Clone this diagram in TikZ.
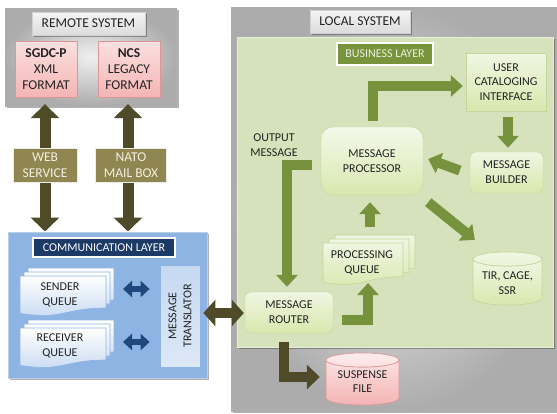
\documentclass[tikz,border=0pt]{standalone}
\usepackage{fontspec}
\setmainfont{Carlito}
\usetikzlibrary{arrows.meta,shadows,calc}
\definecolor{olivedark}{HTML}{4F4A28}
\definecolor{olivebox}{HTML}{908651}
\definecolor{olivetext}{HTML}{F2F0E0}
\definecolor{navy}{HTML}{1B3A66}
\definecolor{commblue}{HTML}{8DB4E2}
\definecolor{commborder}{HTML}{B9CDE5}
\definecolor{blueborder}{HTML}{8DB4E2}
\definecolor{bluepale}{HTML}{C6D9F1}
\definecolor{bluearrow}{HTML}{1F497D}
\definecolor{bizfill}{HTML}{D5E2BB}
\definecolor{bizborder}{HTML}{E8EFD8}
\definecolor{bizlabel}{HTML}{77933C}
\definecolor{bizlabeltext}{HTML}{EBF1DE}
\definecolor{greenarrow}{HTML}{76923C}
\definecolor{greenborder}{HTML}{C3D69B}
\definecolor{greenlight}{HTML}{F0F6E2}
\definecolor{greendark}{HTML}{D8E8AE}
\definecolor{pinklight}{HTML}{FBE0E0}
\definecolor{pinkdark}{HTML}{F4B4B4}
\definecolor{pinkborder}{HTML}{DE9595}
\definecolor{textdark}{HTML}{222222}
\newcommand\ftmain{\fontsize{12}{14.8}\selectfont}
\newcommand\ftbig{\fontsize{13.5}{16}\selectfont}
\newcommand\docpage[5]{\path[#5] ({#1},{#2}) -- ({#1+#3},{#2}) -- ({#1+#3},{#2+0.8*#4}) .. controls ({#1+0.5*#3},{#2+0.8*#4}) and ({#1+0.5*#3},{#2+1.107*#4}) .. ({#1},{#2+0.934*#4}) -- cycle;}
\newcommand\cylshape[7]{%
  \path[#6] ({#1},{#2+#5}) -- ({#1},{#2+#4-#5}) arc[start angle=180,end angle=0,x radius={#3/2},y radius=#5] -- ({#1+#3},{#2+#5}) arc[start angle=0,end angle=180,x radius={#3/2},y radius=#5] -- cycle;
  \path[#7] ({#1+#3/2},{#2+#5}) ellipse[x radius={#3/2},y radius=#5];}
\tikzset{
  shadowed/.style={drop shadow={shadow xshift=2pt,shadow yshift=-2pt,opacity=0.3,fill=black}},
  sysbox/.style={rectangle,inner sep=0,shading=radial,inner color=gray!12,outer color=gray!65,shadowed},
  syslabel/.style={rectangle,top color=gray!8,bottom color=gray!28,draw=gray!35,text=textdark,font=\ftbig,inner sep=0,shadowed},
  pinkbox/.style={rectangle,top color=pinklight,bottom color=pinkdark,draw=pinkborder,text=textdark,font=\ftbig,align=center,inner sep=0},
  olivelabel/.style={rectangle,fill=olivebox,draw=white!85!olivebox,line width=1pt,text=olivetext,font=\ftbig,align=center,inner sep=0},
  gbox/.style={rectangle,top color=greenlight,bottom color=greendark,draw=greenborder,text=textdark,font=\ftmain,align=center,inner sep=0},
  gtext/.style={text=textdark,font=\ftmain,align=center,inner sep=0},
  bluepage/.style={top color=white,bottom color=bluepale,draw=blueborder,line width=0.6pt},
  greenpage/.style={top color=greenlight,bottom color=greendark,draw=greenborder,line width=0.6pt},
  oliveboth/.style={draw=olivedark,line width=11pt,{Triangle[length=14pt,width=28pt]}-{Triangle[length=14pt,width=28pt]}},
  olivesmall/.style={draw=olivedark,line width=10pt,{Triangle[length=12pt,width=26pt]}-{Triangle[length=12pt,width=26pt]}},
  oliveone/.style={draw=olivedark,line width=10pt,line join=miter,-{Triangle[length=13pt,width=24pt]}},
  blueboth/.style={draw=bluearrow,line width=6pt,{Triangle[length=9pt,width=16pt]}-{Triangle[length=9pt,width=16pt]}},
  greenone/.style={draw=greenarrow,line width=10pt,line join=miter,-{Triangle[length=12pt,width=21pt]}},
}
\begin{document}
\begin{tikzpicture}[x=1pt,y=-1pt]
\useasboundingbox (0,0) rectangle (557,413);
\fill[white] (0,0) rectangle (557,413);
% ---------- remote system
\node[sysbox,minimum width=172,minimum height=98] (remote) at (91,57) {};
\node[syslabel,minimum width=113,minimum height=23] (remlabel) at (88.5,23.5) {REMOTE SYSTEM};
\node[pinkbox,minimum width=62,minimum height=56] (sgdc) at (46,69) {\textbf{SGDC-P}\\XML\\FORMAT};
\node[pinkbox,minimum width=62,minimum height=56] (ncs) at (129,69) {\textbf{NCS}\\LEGACY\\FORMAT};
% ---------- communication layer
\node[rectangle,fill=commblue,draw=commborder,line width=1pt,minimum width=199,minimum height=146,shadowed] (comm) at (107.5,305) {};
\node[rectangle,fill=navy,draw=white,line width=1.2pt,text=white,font=\ftmain,minimum width=142,minimum height=19,inner sep=0] (commlabel) at (104,247.5) {COMMUNICATION LAYER};
\docpage{28}{268}{86}{40}{bluepage}
\docpage{24}{272}{86}{40}{bluepage}
\docpage{20}{276}{86}{40}{bluepage}
\node[gtext] (sender) at (60,294.5) {SENDER\\QUEUE};
\docpage{28}{320}{86}{40}{bluepage}
\docpage{24}{324}{86}{40}{bluepage}
\docpage{20}{328}{86}{40}{bluepage}
\node[gtext] (receiver) at (60,346) {RECEIVER\\QUEUE};
\node[rectangle,top color=bluepale,bottom color=bluepale!60!white,draw=blueborder,line width=0.8pt,minimum width=40,minimum height=102,inner sep=0] (translator) at (180,316) {};
\node[gtext,rotate=90] (transtext) at (translator.center) {MESSAGE\\TRANSLATOR};
\coordinate (sendarrow) at (137,289);
\coordinate (recvarrow) at (137,342);
\draw[blueboth] ($(sendarrow)+(-14,0)$) -- ($(translator.west |- sendarrow)+(-10,0)$);
\draw[blueboth] ($(recvarrow)+(-14,0)$) -- ($(translator.west |- recvarrow)+(-10,0)$);
% ---------- vertical olive arrows
\draw[oliveboth] ($(sgdc.south |- remote.south)+(-1,-2)$) -- ($(sgdc.south |- comm.north)+(-1,0)$);
\draw[oliveboth] ($(ncs.south |- remote.south)+(-1,-2)$) -- ($(ncs.south |- comm.north)+(-1,0)$);
\node[olivelabel,minimum width=64,minimum height=34] (web) at (45,165) {WEB\\SERVICE};
\node[olivelabel,minimum width=71,minimum height=34] (nato) at (131,165) {NATO\\MAIL BOX};
% ---------- local system
\node[sysbox,minimum width=326,minimum height=404] (local) at (394,209) {};
\node[syslabel,minimum width=100,minimum height=23] (loclabel) at (360,21.5) {LOCAL SYSTEM};
\node[rectangle,fill=bizfill,draw=bizborder,line width=1pt,minimum width=316,minimum height=310,inner sep=0,shadowed] (biz) at (395,192) {};
\node[rectangle,fill=bizlabel,draw=white,line width=1.2pt,text=bizlabeltext,font=\ftmain,minimum width=96,minimum height=22,inner sep=0] (bizlabeltxt) at (385,54) {BUSINESS LAYER};
\node[gbox,minimum width=80,minimum height=58] (uci) at (506,82) {USER\\CATALOGING\\INTERFACE};
\node[gbox,rounded corners=6pt,minimum width=73,minimum height=41] (mb) at (506.5,172.5) {MESSAGE\\BUILDER};
\node[gbox,rounded corners=12pt,top color=greenlight!70!white,minimum width=102,minimum height=68] (mp) at (372,161) {MESSAGE\\PROCESSOR};
\docpage{335}{235}{80}{42}{greenpage}
\docpage{329}{239}{80}{42}{greenpage}
\docpage{323}{243}{80}{42}{greenpage}
\node[gtext] (pq) at (362,262.5) {PROCESSING\\QUEUE};
\coordinate (pqbottom) at (368,283);
\cylshape{473}{252}{69}{53}{7}{greenpage}{top color=greenlight,bottom color=greenlight!80!greendark,draw=greenborder,line width=0.6pt}
\node[inner sep=0,minimum width=69,minimum height=53] (tir) at (507.5,278.5) {};
\node[gtext] (tirtext) at (507.5,283) {TIR, CAGE,\\SSR};
\node[gtext] (outmsg) at (274,145) {OUTPUT\\MESSAGE};
\node[gbox,rounded corners=6pt,minimum width=88,minimum height=41] (router) at (289,312.5) {MESSAGE\\ROUTER};
\cylshape{326}{353}{73}{52}{7}{top color=pinklight,bottom color=pinkdark,draw=pinkborder,line width=0.6pt}{top color=pinklight!60!white,bottom color=pinklight,draw=pinkborder,line width=0.6pt}
\node[inner sep=0,minimum width=73,minimum height=52] (susp) at (362.5,379) {};
\node[gtext] (susptext) at (362.5,381.5) {SUSPENSE\\FILE};
% ---------- green arrows
\draw[greenone] ($(mp.north)+(1,-6)$) |- ($(uci.west)+(-3,4)$);
\draw[greenone] ($(uci.south)+(2,6)$) -- ($(mb.north)+(1.5,-4)$);
\draw[greenone] ($(mb.west)+(-10,-2)$) -- ($(mp.east)+(5,-2)$);
\draw[greenone] ($(mp.south east)+(5,7)$) -- ($(tir.north west)+(2,-12)$);
\draw[greenone] ($(pq |- pqbottom)+(8,-56)$) -- ($(mp.south)+(-2,7)$);
\draw[greenone] ($(mp.west)+(-9,4)$) -| ($(router.north)+(-2,-5)$);
\draw[greenone] ($(router.east)+(9,7.5)$) -| (pqbottom);
% ---------- olive arrows local
\draw[oliveone] ($(router.south)+(-5,9)$) |- ($(susp.west)+(-6,-2)$);
\draw[olivesmall] ($(translator.east)+(3,-3)$) -- ($(router.west |- translator.east)+(-1,-3)$);
\end{tikzpicture}
\end{document}
